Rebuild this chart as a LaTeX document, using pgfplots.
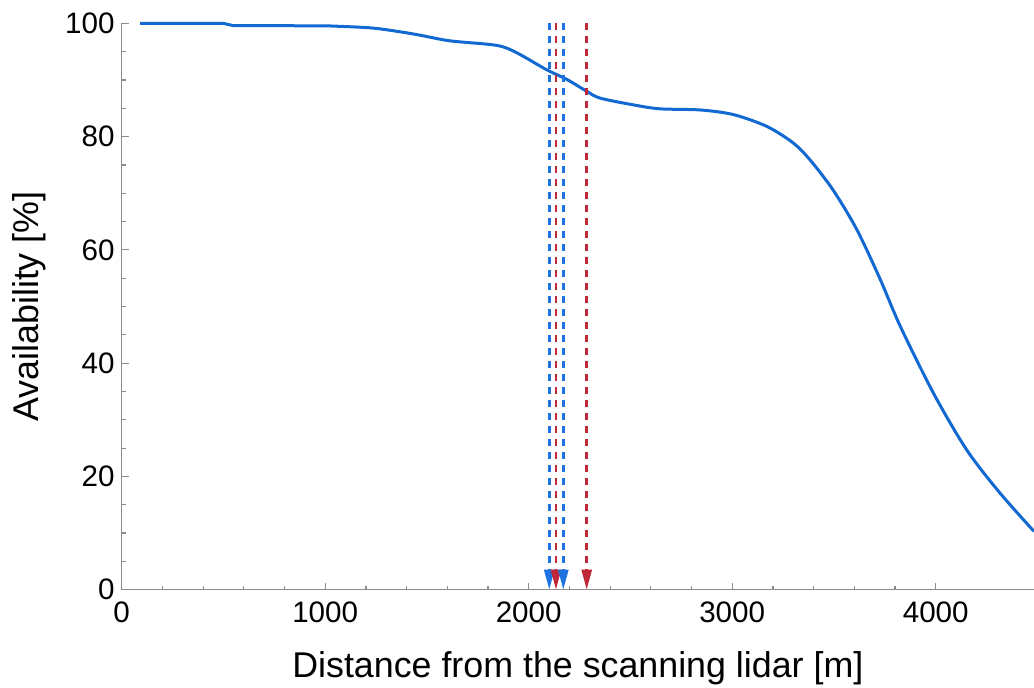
\documentclass[border=0pt]{standalone}
\usepackage{fontspec}
\setmainfont{Liberation Sans}
\usepackage{pgfplots}
\pgfplotsset{compat=1.18}
\usetikzlibrary{arrows.meta}
\definecolor{curveblue}{RGB}{18,105,210}
\definecolor{lineblue}{RGB}{30,115,225}
\definecolor{linered}{RGB}{190,40,55}
\definecolor{axgray}{RGB}{140,140,140}

\begin{document}
\begin{tikzpicture}
\begin{axis}[
  scale only axis, width=456.15pt, height=283.2pt,
  xmin=0, xmax=4483, ymin=0, ymax=100,
  axis x line=bottom, axis y line=left,
  axis line style={-, axgray, line width=0.6pt},
  xtick={0,1000,...,4000}, ytick={0,20,...,100},
  minor x tick num=4, minor y tick num=3,
  tick align=inside, major tick length=3.5pt, minor tick length=2pt,
  tick style={axgray, line width=0.6pt},
  ticklabel style={font=\fontsize{14.8}{17}\selectfont, black},
  xticklabel style={yshift=-2.6pt},
  /pgf/number format/assume math mode=true,
  /pgf/number format/1000 sep={},
  xlabel={Distance from the scanning lidar [m]},
  ylabel={Availability [\%]},
  label style={font=\fontsize{17.9}{20}\selectfont},
  xlabel style={at={(axis description cs:0.5,-0.1547)}, anchor=base},
  ylabel style={at={(axis description cs:-0.091,0.5)}, anchor=base},
  clip=false,
]
% availability curve
\addplot[curveblue, line width=1.5pt] coordinates {
(90,100) (498,100) (547,99.6) (1008,99.55)
};
\addplot[curveblue, line width=1.5pt, smooth, tension=0.5] coordinates {
(1008,99.55) (1221,99.2) (1368,98.5)
(1466,97.9) (1614,96.9) (1843,96.1) (1941,94.8) (2088,91.8) (2187,90.1)
(2285,88.0) (2350,86.8) (2514,85.6) (2645,84.9) (2842,84.7) (3004,83.9)
(3170,81.8) (3299,78.9) (3382,75.9) (3495,70.6) (3612,63.6) (3726,54.9)
(3826,46.5) (3989,34.7) (4152,24.7) (4315,17.1) (4483,10.3)
};
% markers
\addplot[lineblue, line width=1.3pt, dash pattern=on 3.5pt off 3pt, -{Triangle[width=5pt,length=10pt]}] coordinates {(2101,100) (2101,0)};
\addplot[linered, line width=1.3pt, dash pattern=on 3.5pt off 3pt, -{Triangle[width=5pt,length=10pt]}] coordinates {(2134,100) (2134,0)};
\addplot[lineblue, line width=1.3pt, dash pattern=on 3.5pt off 3pt, -{Triangle[width=5pt,length=10pt]}] coordinates {(2170,100) (2170,0)};
\addplot[linered, line width=1.3pt, dash pattern=on 3.5pt off 3pt, -{Triangle[width=5pt,length=10pt]}] coordinates {(2285,100) (2285,0)};
\end{axis}
\pgfresetboundingbox
\path[use as bounding box] (-60.85pt,-48.65pt) rectangle (456.15pt,294.85pt);
\end{tikzpicture}
\end{document}
